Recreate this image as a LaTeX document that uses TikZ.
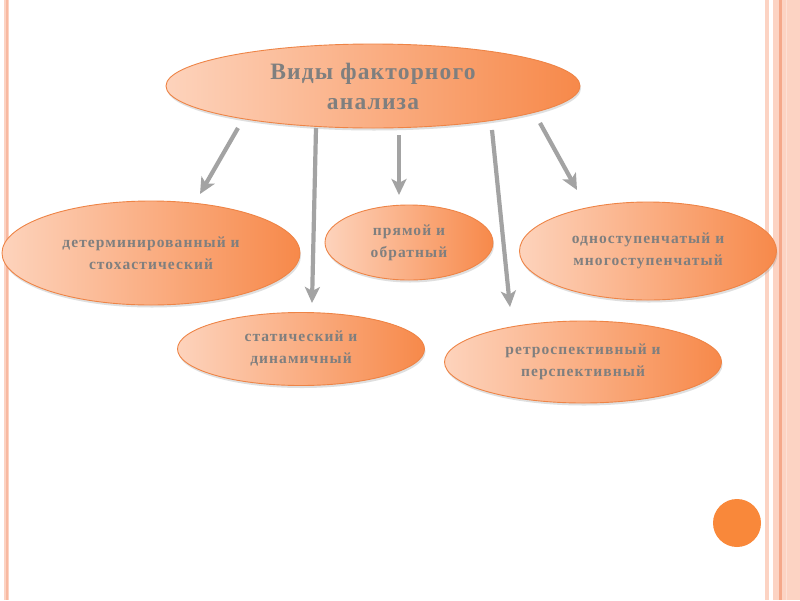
\documentclass[tikz,border=0pt]{standalone}
\usepackage{fontspec}
\setmainfont{Liberation Serif}
\newfontfamily\titlefont[LetterSpace=5]{Liberation Serif}
\newfontfamily\smallfont[LetterSpace=7]{Liberation Serif}
\usetikzlibrary{shapes.geometric,shadows,arrows.meta}
\definecolor{pale}{HTML}{FCD3C3}
\definecolor{paledark}{HTML}{F5A88A}
\definecolor{ellL}{HTML}{FDD3BC}
\definecolor{ellR}{HTML}{F7894A}
\definecolor{ellB}{HTML}{EE8446}
\definecolor{txt}{HTML}{7F7F7F}
\definecolor{arr}{HTML}{A3A3A3}
\definecolor{dot}{HTML}{F9883A}
\tikzset{
  oval/.style={ellipse, draw=ellB, line width=0.9pt, left color=ellL, right color=ellR,
    inner sep=0pt, align=center, text=txt,
    drop shadow={opacity=0.25, shadow xshift=1pt, shadow yshift=-2.5pt}},
  small/.style={font=\smallfont\bfseries\fontsize{15.5}{22}\selectfont},
  conn/.style={draw=arr, line width=4.2pt, -{Stealth[length=16pt,width=15pt,inset=4pt]}}
}
\begin{document}
\begin{tikzpicture}[x=1pt,y=-1pt]
\useasboundingbox (0,0) rectangle (800,600);
\fill[white] (0,0) rectangle (800,600);
% borders
\fill[pale] (4,0) rectangle (9,600);
\fill[paledark!60!pale] (6,0) rectangle (7.5,600);
\fill[pale] (765,0) rectangle (769,600);
\fill[pale] (773,0) rectangle (800,600);
\fill[paledark] (779,0) rectangle (781.5,600);
\fill[pale!70!white] (786,0) rectangle (787,600);
% nodes
\node[oval, minimum width=414pt, minimum height=84pt,
  font=\titlefont\bfseries\fontsize{23.5}{30}\selectfont] (top) at (373,86) {Виды факторного\\анализа};
\node[oval, small, minimum width=298pt, minimum height=104pt] (det) at (151,253) {детерминированный и\\стохастический};
\node[oval, small, minimum width=168pt, minimum height=75pt] (pr) at (409,242.5) {прямой и\\обратный};
\node[oval, small, minimum width=257pt, minimum height=98pt] (odn) at (648,251) {одноступенчатый и\\многоступенчатый};
\node[oval, small, minimum width=247pt, minimum height=73pt] (st) at (301,349) {статический и\\динамичный};
\node[oval, small, minimum width=277pt, minimum height=82pt] (ret) at (583,362) {ретроспективный и\\перспективный};
% connector endpoints
\coordinate (s1) at (238,128); \coordinate (e1) at (200,194);
\coordinate (s2) at (316,128); \coordinate (e2) at (312,303);
\coordinate (s3) at (399,135); \coordinate (e3) at (399,195);
\coordinate (s4) at (492,130); \coordinate (e4) at (510,307);
\coordinate (s5) at (540,123); \coordinate (e5) at (577,190);
\draw[conn] (s1) -- (e1);
\draw[conn] (s2) -- (e2);
\draw[conn] (s3) -- (e3);
\draw[conn] (s4) -- (e4);
\draw[conn] (s5) -- (e5);
% dot
\fill[dot] (737,523) circle (24);
\end{tikzpicture}
\end{document}
